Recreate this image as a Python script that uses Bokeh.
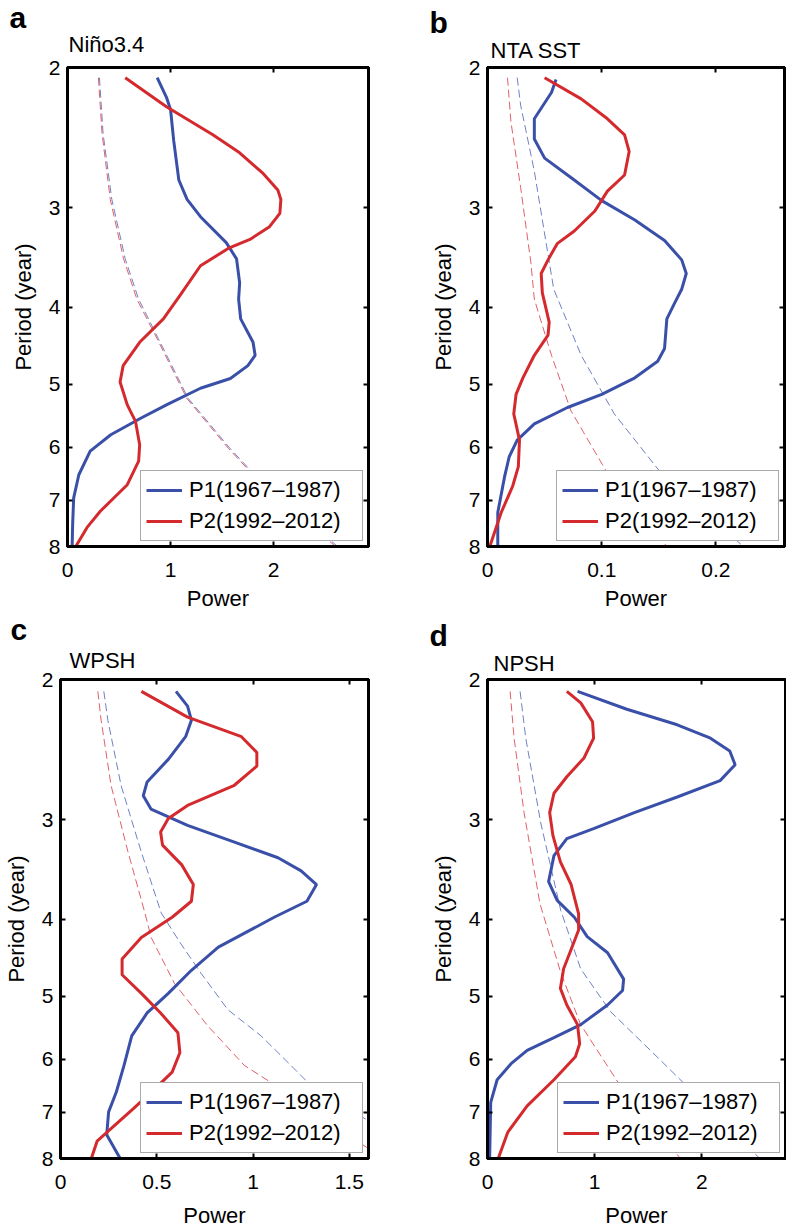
from bokeh.plotting import figure
from bokeh.models import Range1d, FixedTicker, LinearAxis, LogAxis, Legend, Title
from bokeh.layouts import column, row
from bokeh.embed import file_html
from bokeh.resources import INLINE

# ---------------- data ----------------
period_ticks = [2, 3, 4, 5, 6, 7, 8]
legend_labels = ["P1(1967\u20131987)", "P2(1992\u20132012)"]
panel_letters = ["a", "b", "c", "d"]
panel_names = ["Ni\u00f1o3.4", "NTA SST", "WPSH", "NPSH"]

# Panel a: Nino3.4
a_xticks = [0, 1, 2]
a_xlabels = ["0", "1", "2"]
a_p1_period = [2.06, 2.18, 2.26, 2.47, 2.77, 2.93, 3.08, 3.32, 3.48, 3.73, 3.91, 4.14, 4.43, 4.60, 4.74, 4.92, 5.06, 5.31, 5.52, 5.79, 6.07, 6.50, 6.95, 7.50, 8.0]
a_p1_power = [0.87, 0.96, 1.00, 1.03, 1.08, 1.16, 1.29, 1.54, 1.64, 1.67, 1.66, 1.68, 1.80, 1.82, 1.75, 1.58, 1.29, 0.96, 0.71, 0.42, 0.22, 0.11, 0.06, 0.05, 0.045]
a_p2_period = [2.06, 2.24, 2.43, 2.56, 2.72, 2.85, 2.93, 3.05, 3.17, 3.29, 3.37, 3.55, 3.87, 4.14, 4.43, 4.74, 4.97, 5.31, 5.57, 5.96, 6.25, 6.69, 7.22, 7.57, 8.0]
a_p2_power = [0.56, 0.96, 1.41, 1.67, 1.90, 2.04, 2.07, 2.06, 1.96, 1.77, 1.57, 1.29, 1.09, 0.93, 0.70, 0.54, 0.51, 0.58, 0.66, 0.70, 0.69, 0.58, 0.32, 0.19, 0.08]
a_sig1_period = [2.06, 2.42, 2.93, 3.48, 3.91, 4.38, 5.21, 6.02, 6.50, 8.0]
a_sig1_power = [0.31, 0.345, 0.43, 0.56, 0.69, 0.88, 1.17, 1.575, 1.815, 2.62]
a_sig2_period = [2.06, 2.42, 2.93, 3.48, 3.91, 4.38, 5.21, 6.02, 6.50, 8.0]
a_sig2_power = [0.30, 0.335, 0.415, 0.544, 0.673, 0.867, 1.157, 1.56, 1.80, 2.60]

# Panel b: NTA SST
b_xticks = [0, 0.1, 0.2]
b_xlabels = ["0", "0.1", "0.2"]
b_p1_period = [2.07, 2.15, 2.32, 2.46, 2.60, 2.75, 2.94, 3.11, 3.30, 3.49, 3.63, 3.80, 3.95, 4.14, 4.51, 4.68, 4.91, 5.15, 5.35, 5.61, 5.88, 6.17, 6.53, 7.25, 8.0]
b_p1_power = [0.060, 0.056, 0.041, 0.041, 0.050, 0.073, 0.100, 0.129, 0.155, 0.170, 0.174, 0.170, 0.164, 0.157, 0.155, 0.149, 0.129, 0.100, 0.070, 0.041, 0.026, 0.019, 0.015, 0.009, 0.009]
b_p2_period = [2.06, 2.19, 2.32, 2.43, 2.55, 2.73, 2.86, 3.03, 3.21, 3.33, 3.49, 3.63, 3.84, 4.18, 4.34, 4.60, 4.91, 5.15, 5.45, 5.88, 6.35, 6.72, 7.25, 8.0]
b_p2_power = [0.050, 0.082, 0.105, 0.120, 0.124, 0.120, 0.105, 0.094, 0.076, 0.061, 0.053, 0.047, 0.048, 0.054, 0.053, 0.041, 0.031, 0.025, 0.023, 0.028, 0.027, 0.022, 0.012, 0.002]
b_sig1_period = [2.06, 2.23, 2.70, 3.80, 4.60, 5.45, 6.47, 8.0]
b_sig1_power = [0.026, 0.029, 0.041, 0.058, 0.082, 0.111, 0.152, 0.224]
b_sig2_period = [2.06, 2.34, 2.83, 3.52, 3.91, 4.60, 5.40, 6.47, 8.0]
b_sig2_power = [0.0175, 0.0205, 0.029, 0.038, 0.041, 0.056, 0.073, 0.105, 0.157]

# Panel c: WPSH
c_xticks = [0, 0.5, 1, 1.5]
c_xlabels = ["0", "0.5", "1", "1.5"]
c_p1_period = [2.07, 2.16, 2.25, 2.36, 2.52, 2.69, 2.80, 2.91, 3.05, 3.20, 3.35, 3.48, 3.62, 3.80, 3.98, 4.34, 4.64, 4.96, 5.25, 5.61, 6.11, 6.60, 6.99, 7.47, 8.0]
c_p1_power = [0.60, 0.66, 0.68, 0.65, 0.56, 0.45, 0.43, 0.47, 0.66, 0.90, 1.13, 1.25, 1.33, 1.28, 1.11, 0.82, 0.68, 0.56, 0.45, 0.37, 0.33, 0.29, 0.25, 0.24, 0.31]
c_p2_period = [2.07, 2.23, 2.36, 2.47, 2.57, 2.72, 2.88, 2.99, 3.11, 3.23, 3.42, 3.62, 3.80, 3.98, 4.22, 4.49, 4.70, 4.96, 5.25, 5.56, 5.89, 6.23, 6.54, 6.92, 7.61, 8.0]
c_p2_power = [0.42, 0.66, 0.94, 1.02, 1.02, 0.90, 0.66, 0.56, 0.52, 0.53, 0.63, 0.69, 0.68, 0.58, 0.42, 0.32, 0.32, 0.42, 0.52, 0.61, 0.62, 0.58, 0.49, 0.38, 0.19, 0.16]
c_sig1_period = [2.07, 2.25, 2.72, 3.29, 3.93, 4.30, 4.68, 5.20, 5.61, 6.11, 6.54, 7.16, 8.0]
c_sig1_power = [0.225, 0.246, 0.315, 0.419, 0.523, 0.626, 0.73, 0.869, 1.042, 1.197, 1.318, 1.595, 2.0]
c_sig2_period = [2.07, 2.25, 2.72, 3.29, 3.91, 4.22, 4.82, 5.45, 6.11, 6.54, 7.76, 8.0]
c_sig2_power = [0.194, 0.211, 0.263, 0.35, 0.436, 0.471, 0.592, 0.765, 0.955, 1.145, 1.595, 1.68]

# Panel d: NPSH
d_xticks = [0, 1, 2]
d_xlabels = ["0", "1", "2"]
d_p1_period = [2.07, 2.18, 2.28, 2.37, 2.46, 2.56, 2.68, 2.81, 2.94, 3.08, 3.17, 3.33, 3.59, 3.79, 3.98, 4.21, 4.41, 4.76, 4.92, 5.13, 5.43, 5.64, 5.85, 6.08, 6.37, 6.80, 8.0]
d_p1_power = [0.84, 1.30, 1.77, 2.08, 2.26, 2.31, 2.17, 1.77, 1.37, 0.99, 0.74, 0.62, 0.57, 0.65, 0.81, 0.93, 1.12, 1.27, 1.26, 1.12, 0.87, 0.62, 0.37, 0.22, 0.09, 0.03, 0.02]
d_p2_period = [2.07, 2.14, 2.26, 2.37, 2.51, 2.65, 2.78, 2.94, 3.14, 3.39, 3.62, 3.94, 4.13, 4.37, 4.62, 4.89, 5.13, 5.43, 5.74, 5.96, 6.37, 6.87, 7.41, 8.0]
d_p2_power = [0.74, 0.87, 0.98, 0.99, 0.90, 0.74, 0.62, 0.58, 0.61, 0.68, 0.78, 0.85, 0.85, 0.78, 0.71, 0.68, 0.74, 0.84, 0.86, 0.82, 0.62, 0.37, 0.19, 0.10]
d_sig1_period = [2.07, 2.37, 3.03, 3.90, 4.62, 5.23, 5.85, 6.43, 8.0]
d_sig1_power = [0.304, 0.357, 0.497, 0.683, 0.869, 1.148, 1.52, 1.83, 2.54]
d_sig2_period = [2.07, 2.37, 2.94, 3.83, 4.67, 5.43, 6.49, 8.0]
d_sig2_power = [0.211, 0.248, 0.341, 0.49, 0.683, 0.869, 1.241, 1.80]

x_max = [2.92, 0.26, 1.60, 2.78]

# ---------------- style ----------------
FONT = "Liberation Sans"
BLUE = "#3a50a8"
RED = "#d42a2e"
BLUE_SIG = "#7080c4"
RED_SIG = "#e0606a"
NAME_PX = 22
LETTER_PX = 30
ASC, DESC = 0.905, 0.212  # font metrics (em)


def style_axis(ax, ticks, labels=None, show_labels=True):
    ax.ticker = FixedTicker(ticks=ticks)
    ax.minor_tick_line_color = None
    ax.major_tick_in = 5
    ax.major_tick_out = 0
    ax.major_tick_line_width = 2
    ax.axis_line_width = 3
    ax.axis_line_color = "black"
    ax.major_tick_line_color = "black"
    if show_labels:
        ax.major_label_overrides = {t: l for t, l in zip(ticks, labels)}
        ax.major_label_text_font = FONT
        ax.major_label_text_font_size = "21px"
        ax.major_label_text_color = "black"
        ax.axis_label_text_font = FONT
        ax.axis_label_text_font_size = "22px"
        ax.axis_label_text_font_style = "normal"
        ax.axis_label_text_color = "black"
    else:
        # mirrored tick-only axis: no labels drawn
        ax.major_label_text_font_size = "0px"
        ax.major_label_text_color = None
        ax.major_label_standoff = 0


def make_panel(i, xticks, xlabels, p1, p2, sig1, sig2, width, height,
               bl, br, bt, bb, xlab_standoff, letter_dx, letter_base, name_dx, name_base):
    p = figure(width=width, height=height,
               x_range=Range1d(0, x_max[i]), y_range=Range1d(8, 2),
               y_axis_type="log", output_backend="svg", toolbar_location=None,
               min_border_left=bl, min_border_right=br,
               min_border_top=bt, min_border_bottom=bb)
    p.grid.visible = False
    p.outline_line_color = "black"
    p.outline_line_width = 3
    p.background_fill_color = "white"
    p.border_fill_color = "white"

    style_axis(p.xaxis[0], xticks, xlabels)
    p.xaxis[0].axis_label = "Power"
    p.xaxis[0].major_label_standoff = 16
    p.xaxis[0].axis_label_standoff = xlab_standoff
    style_axis(p.yaxis[0], period_ticks, [str(t) for t in period_ticks])
    p.yaxis[0].axis_label = "Period (year)"
    p.yaxis[0].major_label_standoff = 7
    p.yaxis[0].axis_label_standoff = 10

    top = LinearAxis()
    style_axis(top, xticks, show_labels=False)
    p.add_layout(top, "above")
    right = LogAxis()
    style_axis(right, period_ticks, show_labels=False)
    p.add_layout(right, "right")

    # titles: name just above the frame, bold panel letter above it
    s_name = 2 * (bt - name_base - DESC * NAME_PX)
    name_h = 2 + (ASC + DESC) * NAME_PX + s_name
    s_letter = 2 * ((bt - name_h) - letter_base - DESC * LETTER_PX)
    p.add_layout(Title(text=panel_names[i], align="left", offset=name_dx, standoff=s_name,
                       text_font=FONT, text_font_size="%dpx" % NAME_PX,
                       text_font_style="normal", text_color="black"), "above")
    p.add_layout(Title(text=panel_letters[i], align="left", offset=letter_dx, standoff=s_letter,
                       text_font=FONT, text_font_size="%dpx" % LETTER_PX,
                       text_font_style="bold", text_color="black"), "above")

    p.line(sig1[1], sig1[0], line_color=BLUE_SIG, line_width=1, line_dash="8 4")
    p.line(sig2[1], sig2[0], line_color=RED_SIG, line_width=1, line_dash="8 4")
    r1 = p.line(p1[1], p1[0], line_color=BLUE, line_width=3)
    r2 = p.line(p2[1], p2[0], line_color=RED, line_width=3)

    legend = Legend(items=[(legend_labels[0], [r1]), (legend_labels[1], [r2])],
                    location="bottom_right", margin=5, padding=5,
                    spacing=3, label_standoff=7, glyph_width=36, glyph_height=20,
                    label_height=28, label_width=168, label_text_font=FONT,
                    label_text_font_size="22px", label_text_color="black",
                    border_line_color="#555555", border_line_width=1,
                    background_fill_color="white", background_fill_alpha=1.0)
    p.add_layout(legend)
    return p


pa = make_panel(0, a_xticks, a_xlabels, (a_p1_period, a_p1_power), (a_p2_period, a_p2_power),
                (a_sig1_period, a_sig1_power), (a_sig2_period, a_sig2_power),
                394, 613, 67, 26, 67, 64, 6, -58, 28, 1, 52)
pb = make_panel(1, b_xticks, b_xlabels, (b_p1_period, b_p1_power), (b_p2_period, b_p2_power),
                (b_sig1_period, b_sig1_power), (b_sig2_period, b_sig2_power),
                392, 613, 93, 2, 61, 65, 6, -58, 27, 3, 52)
pc = make_panel(2, c_xticks, c_xlabels, (c_p1_period, c_p1_power), (c_p2_period, c_p2_power),
                (c_sig1_period, c_sig1_power), (c_sig2_period, c_sig2_power),
                394, 617, 60, 26, 66, 66, 11, -50, 27, 9, 55)
pd_ = make_panel(3, d_xticks, d_xlabels, (d_p1_period, d_p1_power), (d_p2_period, d_p2_power),
                 (d_sig1_period, d_sig1_power), (d_sig2_period, d_sig2_power),
                 392, 617, 93, 1, 60, 66, 11, -58, 27, 6, 52)

layout = column(row(pa, pb), row(pc, pd_))
open("out.html", "w").write(file_html(layout, INLINE))
